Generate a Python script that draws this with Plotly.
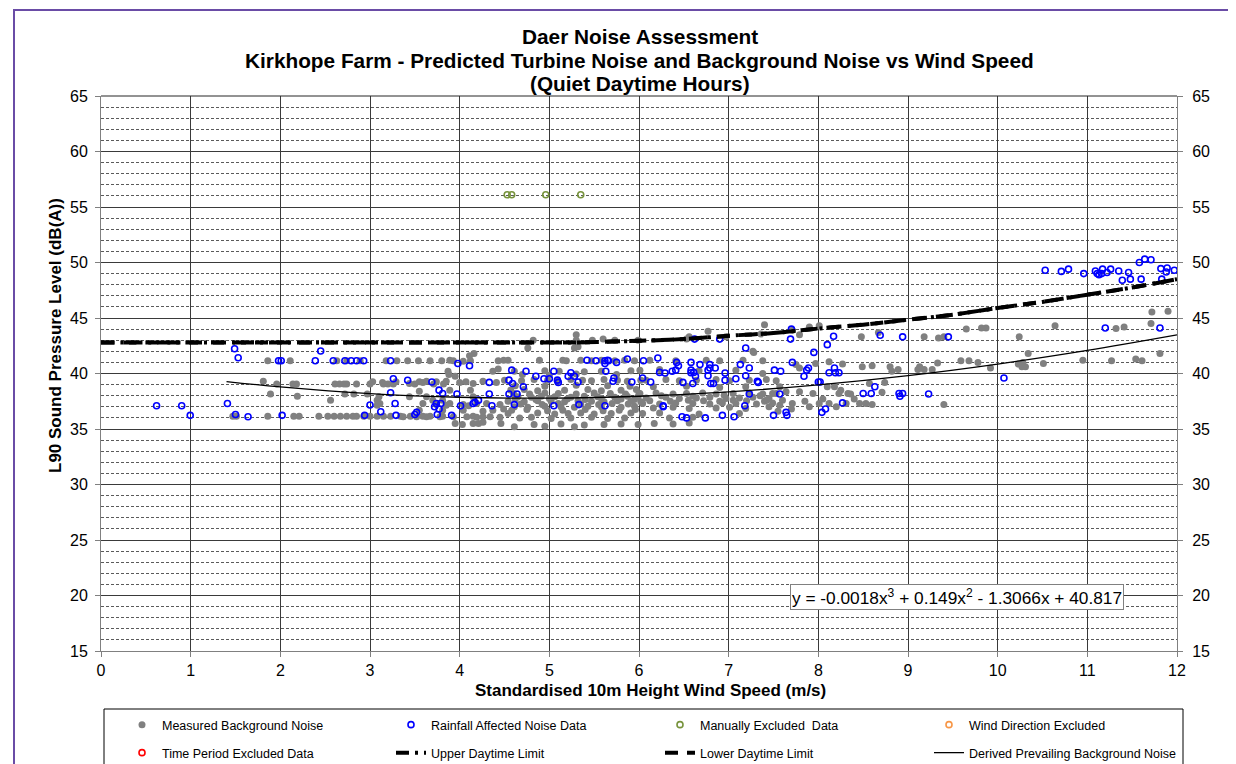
import plotly.graph_objects as go

# ---------------- data ----------------
bg_points = [
    # low wind speeds
    (1.47,36.15),(1.51,36.15),(1.86,36.15),(2.15,36.15),(2.21,36.15),(2.43,36.15),(2.53,36.15),(2.60,36.15),
    (2.67,36.15),(2.74,36.15),(2.81,36.15),(2.85,36.15),(2.93,36.15),(3.00,36.15),(3.08,36.15),(3.15,36.15),
    (1.81,39.30),(1.96,39.05),(2.14,39.05),(2.18,39.05),(2.61,39.05),(2.66,39.05),(2.71,39.05),(2.74,39.05),
    (2.85,39.05),(3.00,39.05),(3.15,39.05),(3.20,39.05),(3.26,39.05),
    (1.86,41.15),(2.11,41.15),(2.63,41.15),(2.74,41.15),(2.89,41.15),(3.18,41.15),
    (1.89,38.15),(2.19,37.95),(2.72,38.15),(2.82,38.15),(2.97,38.15),(3.10,37.90),(2.56,37.60),(3.08,37.60),(3.08,37.15),
    # 3 - 4.5 m/s
    (3.30,41.15),(3.42,41.15),(3.54,41.15),(3.67,41.15),(3.80,41.15),(3.89,41.20),(3.93,41.15),(4.04,41.10),
    (4.12,41.15),(4.43,41.15),(4.49,41.20),
    (4.11,41.60),(4.16,41.80),(3.87,40.20),(4.37,40.20),(4.43,40.40),(3.88,39.90),(3.95,39.75),
    (3.03,39.25),(3.14,39.20),(3.29,39.25),(3.44,39.10),(3.50,39.05),(3.55,39.25),(3.59,39.20),(3.63,39.30),
    (3.71,39.05),(3.74,39.25),(3.82,39.05),(3.85,39.30),(4.00,39.20),(4.07,39.25),(4.15,39.10),(4.26,39.30),(4.41,39.20),
    (3.55,38.40),(3.89,38.50),(4.12,38.50),(3.44,37.90),(3.63,37.90),(4.15,37.90),
    (3.11,37.30),(3.59,37.30),(3.74,37.20),(3.89,37.30),(4.04,37.20),(4.19,37.30),(4.30,37.30),(4.45,37.20),
    (3.85,37.15),(4.10,37.10),(3.70,37.60),(3.81,37.60),
    (3.55,36.70),(3.81,36.70),(4.04,36.70),(4.26,36.60),(4.37,36.70),(4.49,36.80),
    (3.23,36.15),(3.34,36.15),(3.37,36.10),(3.45,36.15),(3.52,36.10),(3.59,36.15),(3.63,36.10),(3.67,36.15),
    (3.78,36.10),(3.81,36.15),(3.93,36.10),(4.08,36.10),(4.15,36.15),(4.19,36.05),(4.26,36.10),(4.34,36.10),(4.45,36.05),
    (3.95,35.50),(4.03,35.40),(4.15,35.50),(4.21,35.50),(4.26,35.60),(4.46,35.50),
    # 4.5 - 6 m/s
    (4.82,43.00),(5.30,43.50),(5.30,43.00),(5.48,43.00),(5.60,43.10),(5.99,43.00),(5.73,43.00),(4.76,42.30),
    (5.28,42.30),(5.32,42.40),
    (4.54,41.20),(4.89,41.20),(5.15,41.20),(5.19,41.15),(5.35,41.20),(5.47,41.15),(5.58,41.20),(5.73,41.15),
    (5.84,41.20),(5.95,41.15),
    (4.61,40.20),(4.95,40.25),(5.11,40.20),(5.39,40.15),(5.58,40.20),(5.91,40.25),
    (4.70,39.90),(5.00,39.85),(5.30,39.95),(5.75,39.90),
    (4.50,39.40),(4.69,39.35),(4.83,39.45),(4.98,39.40),(5.09,39.30),(5.24,39.45),(5.37,39.40),(5.47,39.35),
    (5.61,39.45),(5.76,39.40),(5.87,39.30),(6.02,39.40),
    (4.62,38.90),(4.95,38.85),(5.30,38.95),(5.65,38.90),(5.90,38.85),
    (4.57,38.50),(4.72,38.55),(4.87,38.45),(5.17,38.50),(5.43,38.55),(5.58,38.45),(5.80,38.50),(5.97,38.55),
    (4.60,38.20),(4.78,38.15),(4.95,38.25),(5.10,38.20),(5.30,38.15),(5.50,38.25),(5.68,38.20),(5.85,38.15),(6.00,38.20),
    (4.65,37.90),(4.80,37.85),(4.91,37.95),(5.06,37.90),(5.24,37.85),(5.39,37.95),(5.54,37.90),(5.73,37.85),
    (5.87,37.95),(5.99,37.90),
    (4.62,37.70),(4.85,37.65),(5.00,37.75),(5.20,37.70),(5.40,37.65),(5.58,37.75),(5.80,37.70),(5.95,37.65),
    (4.54,37.50),(4.72,37.45),(4.87,37.55),(5.02,37.50),(5.17,37.45),(5.32,37.55),(5.47,37.50),(5.61,37.45),
    (5.76,37.55),(5.91,37.50),(6.02,37.45),
    (4.68,37.25),(4.92,37.20),(5.10,37.30),(5.35,37.25),(5.55,37.20),(5.70,37.30),(5.88,37.25),
    (4.61,37.00),(4.76,36.95),(4.95,37.05),(5.13,37.00),(5.28,36.95),(5.43,37.05),(5.58,37.00),(5.80,36.95),(5.95,37.05),
    (4.58,36.70),(4.75,36.75),(4.98,36.65),(5.15,36.70),(5.40,36.75),(5.60,36.65),(5.78,36.70),(5.96,36.75),
    (4.54,36.40),(4.87,36.45),(5.06,36.35),(5.21,36.40),(5.35,36.45),(5.50,36.35),(5.69,36.40),(5.91,36.45),
    (4.67,36.00),(4.80,36.05),(5.02,35.95),(5.24,36.00),(5.47,36.05),(5.65,35.95),(5.84,36.00),
    (4.83,35.40),(5.13,35.45),(5.39,35.35),(5.61,35.40),(5.80,35.45),(5.99,35.40),(4.61,35.20),(4.95,35.25),(5.28,35.20),
    # 6 - 7.5 m/s
    (7.40,44.40),(6.77,43.80),(6.56,43.30),(6.97,43.30),(6.53,43.10),(7.27,42.00),(7.36,43.55),
    (6.12,41.20),(6.41,41.15),(6.75,41.20),(6.90,41.15),(7.16,41.20),(7.38,41.15),
    (6.01,40.30),(6.23,40.35),(6.67,40.25),(7.08,40.30),(7.38,40.00),
    (6.08,39.40),(6.30,39.45),(6.45,39.35),(6.64,39.40),(6.86,39.45),(7.01,39.35),(7.23,39.40),(7.42,39.45),(7.53,39.35),
    (6.16,38.80),(6.53,38.85),(6.90,38.75),(7.19,38.80),
    (6.01,38.20),(6.19,38.25),(6.38,38.15),(6.53,38.20),(6.71,38.25),(6.86,38.15),(7.05,38.20),(7.23,38.25),
    (7.38,38.15),(7.53,38.20),
    (6.25,38.00),(6.60,37.95),(6.95,38.05),(7.35,38.00),
    (6.08,37.80),(6.30,37.85),(6.45,37.75),(6.64,37.80),(6.79,37.85),(6.97,37.75),(7.12,37.80),(7.27,37.85),(7.45,37.75),
    (6.12,37.55),(6.35,37.50),(6.55,37.60),(6.72,37.55),(6.90,37.50),(7.05,37.60),(7.20,37.55),(7.40,37.50),
    (6.04,37.30),(6.23,37.25),(6.41,37.35),(6.60,37.30),(6.79,37.25),(6.93,37.35),(7.08,37.30),(7.31,37.25),(7.49,37.35),
    (6.16,36.90),(6.38,36.95),(6.56,36.85),(6.86,36.90),(7.01,36.95),(7.19,36.85),
    (6.04,36.40),(6.23,36.45),(6.67,36.35),(7.12,36.40),(6.34,36.00),(6.60,36.05),(6.17,35.50),(6.38,35.45),(6.56,35.55),
    # 7.5 - 8.6 m/s
    (7.71,43.90),(7.79,43.50),(7.90,44.20),(8.01,44.30),(8.48,43.30),(7.28,41.90),
    (7.57,37.15),(7.71,37.30),(8.01,37.30),(8.12,37.30),(8.31,37.30),(8.46,37.30),(8.53,37.30),(7.94,38.20),
    (7.79,38.35),(8.23,38.20),(8.33,38.20),(8.36,38.15),(8.10,38.80),(8.18,38.80),(8.25,38.50),(7.97,40.90),
    (8.12,41.05),(8.27,40.85),(8.49,40.60),(7.79,40.50),(7.75,40.80),(7.49,38.20),(7.42,37.60),(7.45,37.00),
    (7.57,38.80),(7.64,38.35),
    (7.60,37.60),(7.85,37.50),(7.90,37.00),(8.05,37.70),(8.20,37.00),(8.40,37.70),(7.70,36.80),(7.55,36.60),(8.60,37.20),
    # 8.6 - 12 m/s
    (8.57,39.10),(8.60,40.70),(8.67,43.70),(8.71,38.30),(8.74,39.20),(8.80,40.60),(8.82,40.20),(8.89,40.35),
    (9.11,40.35),(9.13,40.60),(9.18,40.35),(9.27,40.35),(9.33,40.95),(9.18,43.30),(9.34,43.20),(9.40,43.30),
    (9.40,37.20),(9.59,41.15),(9.68,41.15),(9.78,41.00),(9.92,40.50),(9.65,44.00),(9.82,44.10),(9.87,44.10),
    (10.24,43.30),(10.23,40.85),(10.27,40.60),(10.31,40.60),(10.28,41.00),(10.34,41.80),(10.51,40.90),(10.64,44.30),
    (10.95,41.20),(11.27,41.15),(11.32,44.05),(11.41,44.20),(11.54,41.30),(11.61,41.15),(11.71,44.50),(11.72,45.55),
    (11.90,45.60),(11.81,41.80),
]

rain_points = [
    (0.62,37.10),(0.90,37.10),(0.995,36.23),(1.41,37.30),(1.49,42.23),(1.53,41.42),(1.50,36.30),(1.64,36.10),
    (1.98,41.15),(2.01,41.15),(2.02,36.23),(2.45,42.03),(2.39,41.15),(2.59,41.15),(2.72,41.15),(2.79,41.15),
    (2.85,41.15),(2.93,41.15),(3.23,41.15),(3.26,39.53),(3.42,39.39),(3.69,39.23),(3.23,38.27),(3.00,37.16),
    (3.12,36.56),(3.28,37.30),(3.29,36.23),(2.94,36.23),(3.50,36.30),(3.52,36.50),(3.77,38.50),(3.81,38.20),
    (3.98,40.90),(4.11,40.70),(3.97,38.15),(3.74,37.30),(3.79,37.30),(3.72,37.00),(3.77,36.80),(3.75,36.30),
    (3.91,36.23),(4.01,37.10),(4.15,37.30),(4.17,37.40),(4.21,37.60),(4.33,39.20),(4.33,38.15),
    (4.36,37.10),(4.58,40.30),(4.55,39.40),(4.59,39.10),(4.55,38.15),(4.64,38.15),(4.61,37.20),(4.74,40.20),
    (4.71,38.80),(4.85,39.75),(4.94,39.53),(5.00,39.53),(5.05,40.20),(5.09,39.40),(5.10,39.20),(5.05,37.10),
    (5.21,39.75),(5.24,40.07),(5.28,39.75),(5.32,39.23),(5.33,37.20),(5.42,41.20),(5.52,41.15),(5.62,41.15),
    (5.65,41.20),(5.66,41.15),(5.62,40.90),(5.63,40.20),(5.75,41.00),(5.87,41.30),(5.72,39.60),(5.71,39.30),
    (5.62,37.10),(5.92,39.23),(6.04,39.60),(6.05,41.15),(6.13,39.23),(6.21,41.40),(6.23,40.10),(6.29,40.05),
    (6.37,40.20),(6.41,40.30),(6.44,40.70),(6.42,41.00),(6.27,37.10),(6.27,37.00),(6.49,39.20),(6.58,41.00),
    (6.58,40.30),(6.58,40.07),(6.61,40.10),(6.63,39.75),(6.60,39.10),(6.68,40.80),(6.79,40.80),(6.77,40.30),
    (6.79,40.50),(6.77,39.80),(6.80,39.10),(6.83,39.10),(6.85,40.50),(6.62,43.10),(6.90,43.10),(6.48,36.10),
    (6.53,36.00),(6.74,36.00),(6.93,36.23),(7.06,36.10),(6.96,40.05),(6.96,39.40),(7.08,39.53),(7.13,40.80),
    (7.23,40.50),(7.19,42.30),(7.19,39.80),(7.32,39.30),(7.33,39.20),(7.23,38.15),(7.18,37.10),(7.50,36.23),
    (7.64,36.50),(7.65,36.23),(7.51,40.30),(7.58,40.20),(7.57,38.15),(7.70,44.00),(7.69,43.10),(7.71,41.00),
    (7.84,39.75),(7.87,40.30),(7.89,40.50),(7.95,41.90),(8.00,39.23),(8.02,39.23),(8.04,36.50),(8.08,36.80),
    (8.10,42.60),(8.17,43.35),(8.12,40.07),(8.18,40.50),(8.19,40.07),(8.23,40.07),(8.27,37.35),(8.50,38.20),
    (8.59,38.20),(8.63,38.80),(8.69,43.45),
    (8.94,43.30),(8.90,38.20),(8.91,37.95),(8.94,38.20),(9.23,38.15),(9.45,43.30),(10.07,39.60),(10.53,49.30),
    (10.71,49.20),(10.79,49.40),(10.96,49.00),(11.09,49.23),(11.11,49.00),(11.13,48.90),(11.16,49.00),(11.17,49.40),
    (11.22,49.10),(11.26,49.40),(11.35,49.23),(11.39,48.40),(11.46,49.10),(11.48,48.50),(11.58,50.00),(11.64,50.30),
    (11.71,50.25),(11.60,48.50),(11.82,49.45),(11.88,49.15),(11.89,49.50),(11.83,48.50),(11.97,49.30),(11.20,44.10),
    (11.81,44.10),
]

manual_x = [4.53, 4.58, 4.96, 5.35]
manual_y = [56.1, 56.1, 56.1, 56.1]

limit_x = [0, 1, 2, 3, 4, 5, 5.3, 6, 6.5, 7, 7.5, 8, 8.5, 9, 9.5, 10, 10.5, 11, 11.5, 12]
upper_y = [42.8, 42.8, 42.8, 42.8, 42.8, 42.8, 42.8, 42.95, 43.1, 43.4, 43.65, 44.05, 44.4, 44.85, 45.3,
           45.9, 46.45, 47.1, 47.75, 48.5]
lower_y = [42.8, 42.8, 42.8, 42.8, 42.8, 42.8, 42.8, 42.95, 43.1, 43.4, 43.65, 44.05, 44.4, 44.85, 45.3,
           45.9, 46.45, 47.1, 47.75, 48.5]

curve_x = [1.4, 2, 3, 4, 5, 6, 7, 8, 9, 10, 11, 12]
curve_y = [39.27, 38.79, 38.19, 37.86, 37.78, 37.95, 38.35, 38.98, 39.81, 40.85, 42.08, 43.48]

x_ticks = list(range(0, 13))
y_ticks = [15, 20, 25, 30, 35, 40, 45, 50, 55, 60, 65]

title_lines = ["Daer Noise Assessment",
               "Kirkhope Farm - Predicted Turbine Noise and Background Noise vs Wind Speed",
               "(Quiet Daytime Hours)"]
equation = "y = -0.0018x<sup>3</sup> + 0.149x<sup>2</sup> - 1.3066x + 40.817"

bg_x = [p[0] for p in bg_points]
bg_y = [p[1] for p in bg_points]
rain_x = [p[0] for p in rain_points]
rain_y = [p[1] for p in rain_points]

# ---------------- layout geometry ----------------
# positions below are screen pixels of the reference; the page body adds an 8 px offset
W, H = 1236, 764
OFF = 8
L, R, T, B = 101 - OFF, 1177 - OFF, 96 - OFF, 651 - OFF
FONT = "Liberation Sans, Arial, sans-serif"


def fx(xs):
    return (xs - OFF - L) / (R - L)


def fy(ys):
    return (B - (ys - OFF)) / (B - T)


fig = go.Figure()

fig.add_trace(go.Scatter(x=bg_x, y=bg_y, mode="markers", name="Measured Background Noise",
                         marker=dict(color="#808080", size=7, line=dict(width=0)), legend="legend"))
fig.add_trace(go.Scatter(x=rain_x, y=rain_y, mode="markers", name="Rainfall Affected Noise Data",
                         marker=dict(color="#0000FF", size=6, symbol="circle-open", line=dict(width=1.6)),
                         legend="legend"))
fig.add_trace(go.Scatter(x=manual_x, y=manual_y, mode="markers", name="Manually Excluded\u00a0 Data",
                         marker=dict(color="#77933C", size=6, symbol="circle-open", line=dict(width=1.6)),
                         legend="legend"))
fig.add_trace(go.Scatter(x=[None], y=[None], mode="markers", name="Wind Direction Excluded",
                         marker=dict(color="#F79646", size=6, symbol="circle-open", line=dict(width=1.6)),
                         legend="legend", yaxis="y2"))
fig.add_trace(go.Scatter(x=[None], y=[None], mode="markers", name="Time Period Excluded Data",
                         marker=dict(color="#FF0000", size=6, symbol="circle-open", line=dict(width=1.6)),
                         legend="legend2", yaxis="y2"))
fig.add_trace(go.Scatter(x=limit_x, y=upper_y, mode="lines", name="Upper Daytime Limit",
                         line=dict(color="black", width=4, dash="13px,6px,3px,6px", shape="spline"),
                         legend="legend2"))
fig.add_trace(go.Scatter(x=limit_x, y=lower_y, mode="lines", name="Lower Daytime Limit",
                         line=dict(color="black", width=4, dash="13px,9px", shape="spline"),
                         legend="legend2"))
fig.add_trace(go.Scatter(x=curve_x, y=curve_y, mode="lines", name="Derived Prevailing Background Noise",
                         line=dict(color="black", width=1.3, shape="spline"), legend="legend2"))

axis_common = dict(ticks="outside", ticklen=5, tickcolor="#808080", showline=True, linecolor="#808080",
                   linewidth=1, zeroline=False, tickfont=dict(family=FONT, size=16, color="black"))

legend_common = dict(orientation="h", x=fx(122), xanchor="left", yanchor="middle",
                     entrywidth=224, entrywidthmode="pixels", bgcolor="rgba(0,0,0,0)", borderwidth=0,
                     font=dict(family=FONT, size=12.5, color="black"), traceorder="normal")

fig.update_layout(
    width=W, height=H,
    margin=dict(l=L, r=W - R, t=T, b=H - B, autoexpand=False),
    paper_bgcolor="white", plot_bgcolor="white",
    font=dict(family=FONT, color="black"),
    xaxis=dict(range=[0, 12], tickvals=x_ticks, showgrid=True, gridcolor="#3a3a3a", gridwidth=1,
               **axis_common),
    yaxis=dict(range=[15, 65], tickvals=y_ticks, showgrid=True, gridcolor="#3a3a3a", gridwidth=1,
               minor=dict(dtick=1, showgrid=True, gridcolor="#5a5a5a", griddash="3px,2px", gridwidth=1),
               ticklabelstandoff=4, **axis_common),
    yaxis2=dict(range=[15, 65], tickvals=y_ticks, overlaying="y", side="right", showgrid=False,
                ticklabelstandoff=6, **axis_common),
    showlegend=True,
    legend=dict(y=fy(725), **legend_common),
    legend2=dict(y=fy(753), **legend_common),
)

annotations = []
for txt, ys in zip(title_lines, [36, 61, 83]):
    annotations.append(dict(text="<b>" + txt + "</b>", x=fx(639.5), y=fy(ys), xref="paper", yref="paper",
                            showarrow=False, xanchor="center", yanchor="middle",
                            font=dict(family=FONT, size=20.8, color="black")))
annotations.append(dict(text="<b>Standardised 10m Height Wind Speed (m/s)</b>", x=fx(650), y=fy(690),
                        xref="paper", yref="paper", showarrow=False, xanchor="center", yanchor="middle",
                        font=dict(family=FONT, size=17, color="black")))
annotations.append(dict(text="<b>L90 Sound Pressure Level (dB(A))</b>", x=fx(55), y=fy(336),
                        xref="paper", yref="paper", showarrow=False, xanchor="center", yanchor="middle",
                        textangle=-90, font=dict(family=FONT, size=17, color="black")))
annotations.append(dict(text=equation, x=fx(956.5), y=fy(596.5), xref="paper", yref="paper", showarrow=False,
                        xanchor="center", yanchor="middle", bgcolor="white", bordercolor="#808080",
                        borderwidth=1, borderpad=1, font=dict(family=FONT, size=17.3, color="black")))
fig.update_layout(annotations=annotations)

fig.update_layout(shapes=[
    # outer chart frame (purple)
    dict(type="rect", xref="paper", yref="paper", x0=fx(14), x1=fx(1262), y0=fy(800), y1=fy(10),
         line=dict(color="#6A4CA6", width=2), layer="above"),
    # legend box
    dict(type="rect", xref="paper", yref="paper", x0=fx(104), x1=fx(1183), y0=fy(800), y1=fy(709),
         line=dict(color="black", width=1), layer="above"),
    # dark top edge of the plot area
    dict(type="line", xref="paper", yref="paper", x0=0, x1=1, y0=1, y1=1,
         line=dict(color="#262626", width=1), layer="above"),
])

fig.write_html("out.html")
